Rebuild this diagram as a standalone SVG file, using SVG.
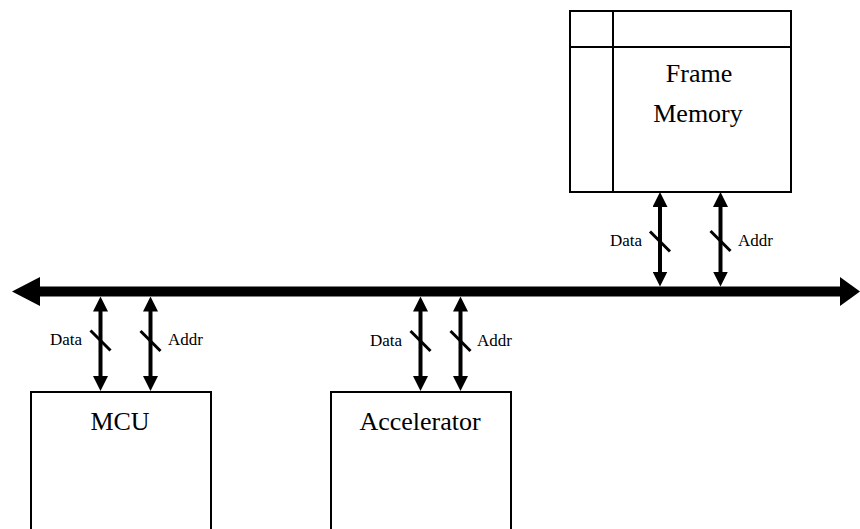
<svg xmlns="http://www.w3.org/2000/svg" width="860" height="529" viewBox="0 0 860 529">
<style>
.box{fill:#fff;stroke:#000;stroke-width:2}
.div{stroke:#000;stroke-width:2;fill:none}
.big{font-size:26px;fill:#000;text-anchor:middle}
.lbl{font-size:17px;fill:#000}
.arr{stroke:#000;stroke-width:4;fill:none;marker-start:url(#ah);marker-end:url(#ah)}
.sl{stroke:#000;stroke-width:3}
.bus{stroke:#000;stroke-width:10}
</style>
<defs>
<marker id="ah" viewBox="0 0 15 15" refX="5" refY="7.5" markerWidth="15" markerHeight="15" markerUnits="userSpaceOnUse" orient="auto-start-reverse">
<path d="M0,0 L15,7.5 L0,15 Z" fill="#000"/>
</marker>
</defs>
<g font-family="'Liberation Serif', 'DejaVu Serif', serif">
<g id="frame-memory">
<rect class="box" x="570" y="11" width="221" height="181"/>
<line class="div" x1="570" y1="47" x2="791" y2="47"/>
<line class="div" x1="613" y1="11" x2="613" y2="192"/>
<text class="big" x="699" y="82">Frame</text>
<text class="big" x="698" y="122">Memory</text>
</g>
<g id="mcu">
<rect class="box" x="31" y="392" width="180" height="160"/>
<text class="big" x="120" y="430">MCU</text>
</g>
<g id="accelerator">
<rect class="box" x="331" y="392" width="180" height="160"/>
<text class="big" x="420" y="430">Accelerator</text>
</g>
<g id="connectors">
<line class="bus" x1="38" y1="291.5" x2="842" y2="291.5"/>
<polygon points="12,291.5 40,277 40,306" fill="#000"/>
<polygon points="860,291.5 840,277 840,306" fill="#000"/>
<line class="arr" x1="660" y1="202" x2="660" y2="276.5"/>
<line class="arr" x1="720.5" y1="202" x2="720.5" y2="276.5"/>
<line class="sl" x1="650" y1="231.5" x2="670" y2="251.5"/>
<line class="sl" x1="710.5" y1="231" x2="730.5" y2="251"/>
<text class="lbl" x="642" y="246" text-anchor="end">Data</text>
<text class="lbl" x="738" y="246">Addr</text>
<line class="arr" x1="100.5" y1="306.5" x2="100.5" y2="381"/>
<line class="arr" x1="150.5" y1="306.5" x2="150.5" y2="381"/>
<line class="sl" x1="90.5" y1="330.5" x2="110.5" y2="350.5"/>
<line class="sl" x1="140.5" y1="331" x2="160.5" y2="351"/>
<text class="lbl" x="82" y="345" text-anchor="end">Data</text>
<text class="lbl" x="168" y="345">Addr</text>
<line class="arr" x1="420.5" y1="306.5" x2="420.5" y2="381"/>
<line class="arr" x1="460.5" y1="306.5" x2="460.5" y2="381"/>
<line class="sl" x1="410.5" y1="331" x2="430.5" y2="351"/>
<line class="sl" x1="450.5" y1="331" x2="470.5" y2="351"/>
<text class="lbl" x="402" y="346" text-anchor="end">Data</text>
<text class="lbl" x="477" y="346">Addr</text>
</g>
</g>
</svg>
